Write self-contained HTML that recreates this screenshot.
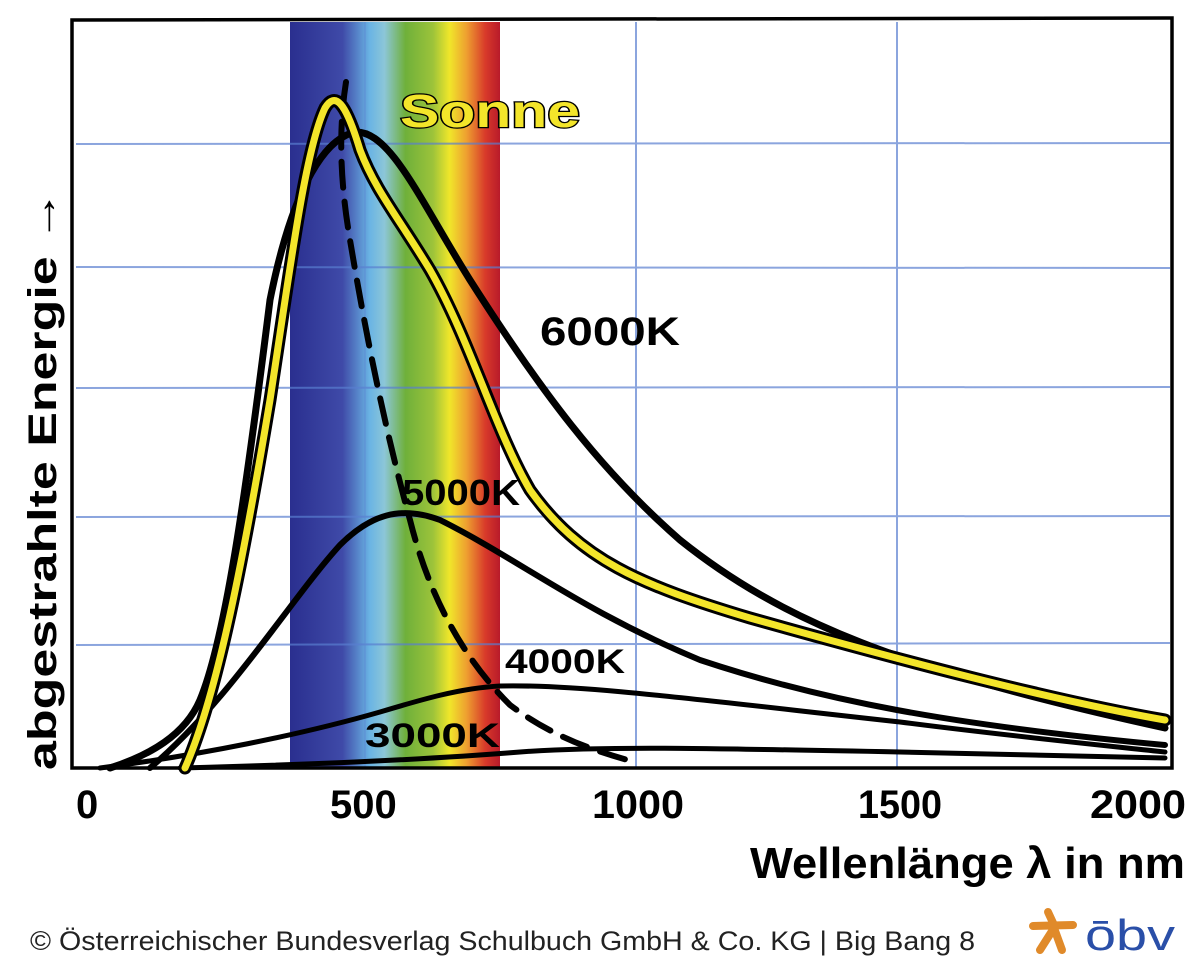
<!DOCTYPE html>
<html><head><meta charset="utf-8"><style>
html,body{margin:0;padding:0;background:#fff;}
svg{display:block;}
</style></head><body>
<svg width="1200" height="969" viewBox="0 0 1200 969" xmlns="http://www.w3.org/2000/svg">
<defs>
<linearGradient id="sp" x1="0" x2="1" y1="0" y2="0">
<stop offset="0" stop-color="#2a2f8f"/>
<stop offset="0.25" stop-color="#3f4aa8"/>
<stop offset="0.38" stop-color="#6ab4e4"/>
<stop offset="0.45" stop-color="#8cc6d8"/>
<stop offset="0.55" stop-color="#6fb03a"/>
<stop offset="0.68" stop-color="#9cc33a"/>
<stop offset="0.76" stop-color="#f0e62a"/>
<stop offset="0.84" stop-color="#eea030"/>
<stop offset="0.93" stop-color="#d83a2a"/>
<stop offset="1" stop-color="#b81a2a"/>
</linearGradient>
</defs>
<rect x="290" y="22" width="210" height="746" fill="url(#sp)"/>
<g stroke="#5a7fd0" stroke-width="2" opacity="0.7">
<line x1="76" y1="144" x2="1170" y2="143"/>
<line x1="76" y1="267" x2="1170" y2="268"/>
<line x1="76" y1="388" x2="1170" y2="387"/>
<line x1="76" y1="517" x2="1170" y2="516"/>
<line x1="76" y1="645" x2="1170" y2="643"/>
<line x1="365" y1="22" x2="365" y2="768" opacity="0.4"/>
<line x1="636" y1="22" x2="636" y2="768"/>
<line x1="897" y1="22" x2="897" y2="768"/>
</g>
<path d="M72 20 L1172 18 L1172 768 L72 768 Z" fill="none" stroke="#000" stroke-width="3.5"/>
<g fill="none" stroke="#000" stroke-linecap="round">
<path d="M110 768 C150 755 185 735 200 700 C225 640 245 500 270 300 C290 200 320 140 355 132 C390 130 420 200 470 280 C540 390 600 470 680 540 C780 620 900 670 1165 728" stroke-width="7"/>
<path d="M150 768 C230 700 290 600 340 545 C370 515 400 505 440 520 C520 560 580 610 700 660 C820 700 950 725 1165 745" stroke-width="6"/>
<path d="M100 768 C200 755 300 735 380 712 C420 700 460 688 500 686 C580 684 700 700 900 722 C1000 735 1100 745 1165 752" stroke-width="5"/>
<path d="M180 768 C300 765 420 760 520 752 C600 746 700 748 900 752 C1000 755 1100 757 1165 758" stroke-width="5"/>
<path d="M346 82 C340 120 338 170 350 240 C365 330 385 430 410 520 C430 600 465 660 510 705 C550 735 590 750 635 762" stroke-width="6" stroke-dasharray="26 14"/>
</g>
<g fill="none" stroke-linecap="round">
<path d="M185 768 C215 700 240 580 270 400 C290 270 305 150 325 108 C335 92 345 100 360 150 C375 190 400 220 430 270 C470 340 495 430 530 490 C580 560 640 585 750 618 C900 660 1050 700 1165 720" stroke="#000" stroke-width="13"/>
<path d="M185 768 C215 700 240 580 270 400 C290 270 305 150 325 108 C335 92 345 100 360 150 C375 190 400 220 430 270 C470 340 495 430 530 490 C580 560 640 585 750 618 C900 660 1050 700 1165 720" stroke="#f3e52a" stroke-width="7"/>
</g>
<g font-family="'Liberation Sans',sans-serif" font-weight="bold">
<text x="400" y="127" font-size="46" fill="#f3e52a" stroke="#000" stroke-width="2.5" paint-order="stroke" textLength="180" lengthAdjust="spacingAndGlyphs">Sonne</text>
<text x="540" y="345" font-size="40" fill="#000" textLength="140" lengthAdjust="spacingAndGlyphs">6000K</text>
<text x="402" y="505" font-size="36" fill="#000" textLength="118" lengthAdjust="spacingAndGlyphs">5000K</text>
<text x="505" y="673" font-size="34" fill="#000" textLength="120" lengthAdjust="spacingAndGlyphs">4000K</text>
<text x="365" y="747" font-size="34" fill="#000" textLength="135" lengthAdjust="spacingAndGlyphs">3000K</text>
<text x="76" y="818" font-size="40">0</text>
<text x="330" y="818" font-size="40">500</text>
<text x="592" y="818" font-size="40" textLength="92" lengthAdjust="spacingAndGlyphs">1000</text>
<text x="858" y="818" font-size="40" textLength="84" lengthAdjust="spacingAndGlyphs">1500</text>
<text x="1090" y="818" font-size="40" textLength="96" lengthAdjust="spacingAndGlyphs">2000</text>
<text x="750" y="878" font-size="44" textLength="435" lengthAdjust="spacingAndGlyphs">Wellenlänge λ in nm</text>
<text transform="translate(56,770) rotate(-90)" font-size="40" textLength="580" lengthAdjust="spacingAndGlyphs">abgestrahlte Energie →</text>
</g>
<text x="30" y="950" font-family="'Liberation Sans',sans-serif" font-size="27" fill="#222" textLength="945" lengthAdjust="spacingAndGlyphs">© Österreichischer Bundesverlag Schulbuch GmbH &amp; Co. KG |  Big Bang 8</text>
<g stroke="#e08a2a" stroke-width="8" stroke-linecap="round">
<line x1="1048" y1="912" x2="1054" y2="925"/>
<line x1="1033" y1="926" x2="1073" y2="925"/>
<line x1="1054" y1="928" x2="1040" y2="950"/>
<line x1="1054" y1="928" x2="1062" y2="950"/>
</g>
<text x="1085" y="950" font-family="'Liberation Sans',sans-serif" font-size="44" fill="#2a4fa8" textLength="90" lengthAdjust="spacingAndGlyphs">ōbv</text>
</svg>
</body></html>
